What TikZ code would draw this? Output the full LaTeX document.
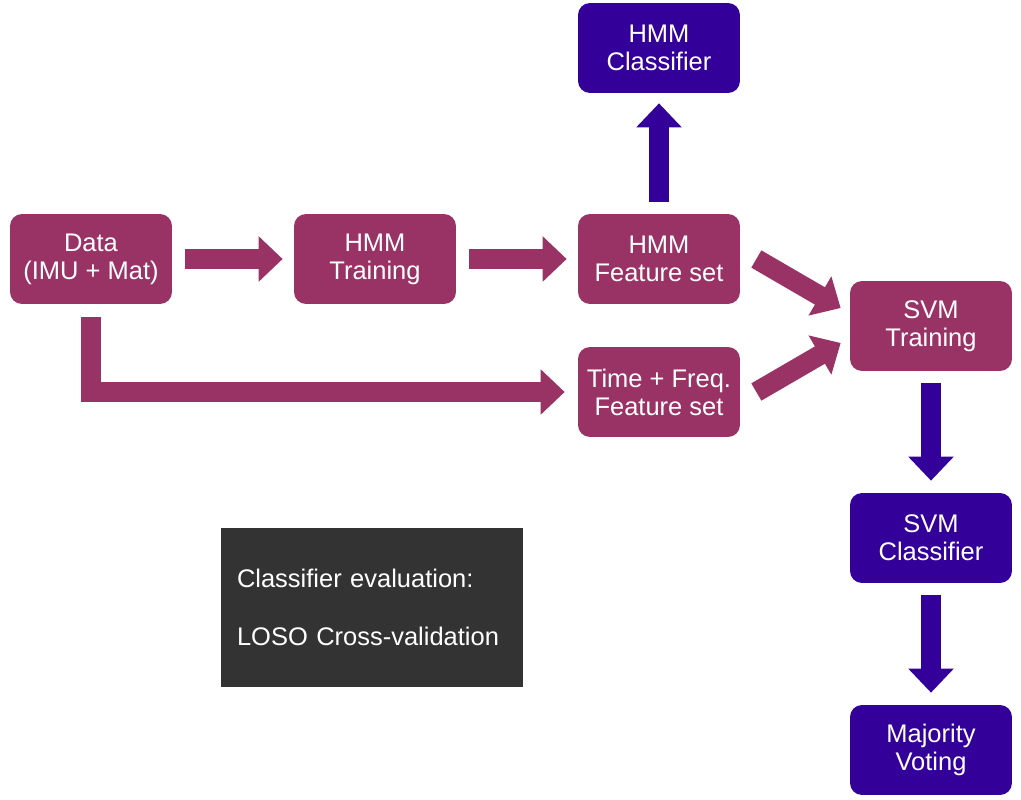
\documentclass[tikz,border=0pt]{standalone}
\usepackage{fontspec}
\setmainfont{Liberation Sans}
\usetikzlibrary{arrows.meta,calc}
\definecolor{mauvecolor}{HTML}{993366}
\definecolor{indigocolor}{HTML}{330099}
\definecolor{greycolor}{HTML}{333333}
\tikzset{
  stage/.style={rounded corners=0.24cm, fill=mauvecolor, text=white, minimum width=3.24cm,
    minimum height=1.8cm, inner sep=0pt, align=center, font=\fontsize{14.5pt}{16pt}\selectfont},
  result/.style={stage, fill=indigocolor},
  evalbox/.style={fill=greycolor, text=white, minimum width=6.04cm, minimum height=3.18cm,
    text width=5.4cm, inner xsep=0.32cm, align=left, font=\fontsize{14.5pt}{16pt}\selectfont},
  fat/.style={line width=0.4cm, draw=mauvecolor, -{Triangle[width=0.88cm,length=0.48cm]}},
  fatblue/.style={fat, draw=indigocolor},
}
\begin{document}
\begin{tikzpicture}[x=0.02cm,y=-0.02cm]
  \useasboundingbox (0,0) rectangle (1021,800);
  \node[stage] (data) at (91,259) {Data\\(IMU + Mat)};
  \node[stage] (hmmtrain) at (375,259) {HMM\\Training};
  \node[stage] (hmmfeat) at (659,259) {HMM\\Feature set};
  \node[stage] (tfeat) at (659,392) {Time + Freq.\\Feature set};
  \node[stage] (svmtrain) at (931,326) {SVM\\Training};
  \node[result] (hmmclass) at (659,48) {HMM\\Classifier};
  \node[result] (svmclass) at (931,538) {SVM\\Classifier};
  \node[result] (vote) at (931,750) {Majority\\Voting};
  \node[evalbox] (eval) at (372,607.5) {Classifier evaluation:\\[17pt]LOSO Cross-validation};
  % mauve arrows
  \foreach \a/\b in {data/hmmtrain,hmmtrain/hmmfeat} { \draw[fat,shorten <=0.26cm,shorten >=0.22cm] (\a) -- (\b); }
  \draw[fat,shorten <=0.26cm,shorten >=0.26cm] (data.south) |- (tfeat.west);
  \draw[fat] ($(hmmfeat.east)+(16,0)$) -- ($(svmtrain.west)+(-9,-18)$);
  \draw[fat] ($(tfeat.east)+(16,0)$) -- ($(svmtrain.west)+(-9,17)$);
  % indigo arrows
  \draw[fatblue,shorten <=0.24cm,shorten >=0.2cm] (hmmfeat) -- (hmmclass);
  \foreach \a/\b in {svmtrain/svmclass,svmclass/vote} { \draw[fatblue,shorten <=0.24cm,shorten >=0.24cm] (\a) -- (\b); }
\end{tikzpicture}
\end{document}
